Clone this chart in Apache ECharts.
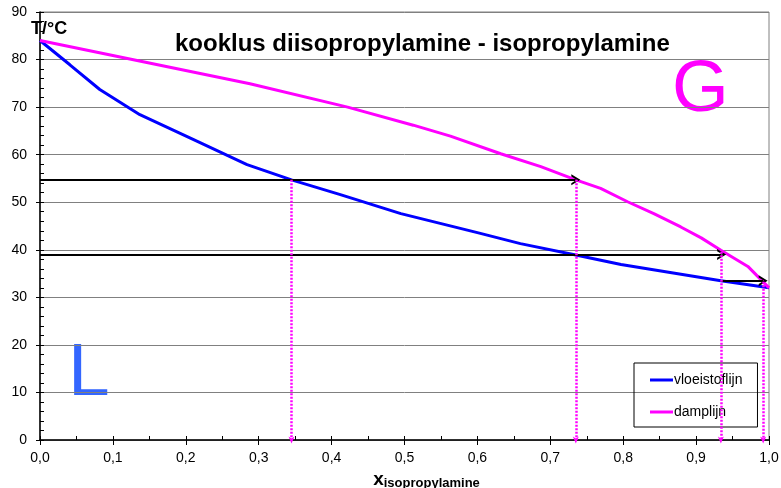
<!DOCTYPE html>
<html>
<head>
<meta charset="utf-8">
<script src="https://cdn.jsdelivr.net/npm/echarts@6/dist/echarts.min.js"></script>
<style>html,body{margin:0;padding:0;background:#fff;}#c{width:781px;height:488px;}</style>
</head>
<body>
<div id="c"></div>
<script>
// liquid line (vloeistoflijn): mole fraction isopropylamine vs T
const liquidX = [0, 0.041, 0.082, 0.137, 0.21, 0.284, 0.345, 0.412, 0.495, 0.6, 0.659, 0.735, 0.797, 0.934, 1.0];
const liquidT = [84, 78.9, 73.7, 68.4, 63.2, 57.9, 54.7, 51.6, 47.6, 43.6, 41.3, 38.9, 36.9, 33.5, 32];
// vapour line (damplijn)
const vaporX = [0, 0.288, 0.422, 0.512, 0.563, 0.632, 0.687, 0.735, 0.769, 0.806, 0.842, 0.879, 0.907, 0.934, 0.971, 1.0];
const vaporT = [84, 74.9, 70.0, 66.2, 63.9, 60.2, 57.5, 54.7, 52.9, 50.1, 47.6, 44.8, 42.5, 39.9, 36.5, 32];
// horizontal tie-line arrows: [xStart, xEnd, T]
const tieArrows = [[0, 0.735, 54.7], [0, 0.935, 39.0], [0.934, 0.992, 33.5]];
// vertical dotted drop arrows: [x, Tstart]
const dropArrows = [[0.345, 54.7], [0.735, 54.7], [0.934, 39.6], [0.992, 33.3]];
const xTicks = ['0,0','0,1','0,2','0,3','0,4','0,5','0,6','0,7','0,8','0,9','1,0'];

const chart = echarts.init(document.getElementById('c'));
const chevron = 'path://M5,0 L10,10 L8,10 L5,4 L2,10 L0,10 Z';
const arrowUp = 'path://M5,0 L10,10 L5,7 L0,10 Z';
const font = 'Arial, "Liberation Sans", sans-serif';

const axisCommon = {
  type: 'value', min: 0, max: 1, interval: 0.1
};
chart.setOption({
  animation: false,
  backgroundColor: '#fff',
  title: {
    text: 'kooklus diisopropylamine - isopropylamine',
    left: 170, top: 27,
    textStyle: {fontFamily: font, fontSize: 24, fontWeight: 'bold', color: '#000'}
  },
  grid: {left: 40, right: 12, top: 12, bottom: 48, containLabel: false, outerBoundsMode: 'none',
    show: true, borderColor: '#808080', borderWidth: 1},
  legend: {
    data: ['vloeistoflijn', 'damplijn'],
    orient: 'vertical', left: 634, top: 363,
    icon: 'rect', itemWidth: 23, itemHeight: 3, itemGap: 18,
    padding: [10, 15, 8, 16],
    borderColor: '#000', borderWidth: 1, borderRadius: 0,
    textStyle: {fontFamily: font, fontSize: 14, color: '#000', padding: [0, 0, 0, -4]}
  },
  xAxis: [
    Object.assign({}, axisCommon, {
      position: 'bottom',
      name: '{x|x}{s|isopropylamine}', nameLocation: 'middle', nameGap: 23,
      nameTextStyle: {padding: [0, 0, 0, 44], rich: {
        x: {fontFamily: font, fontSize: 19, fontWeight: 'bold', color: '#000'},
        s: {fontFamily: font, fontSize: 13, fontWeight: 'bold', color: '#000', padding: [9, 0, 0, 0]}
      }},
      axisLine: {show: true, onZero: false, lineStyle: {color: '#000', width: 1.5}},
      axisTick: {show: true, length: 5, lineStyle: {color: '#000'}},
      axisLabel: {fontFamily: font, fontSize: 14, color: '#000', margin: 11,
        formatter: v => xTicks[Math.round(v * 10)]},
      splitLine: {show: false}
    }),
    Object.assign({}, axisCommon, {
      position: 'bottom',
      axisLine: {show: false, onZero: false},
      axisTick: {show: true, inside: true, length: 4, lineStyle: {color: '#000'}},
      minorTick: {show: true, splitNumber: 2, length: 4, lineStyle: {color: '#000'}},
      axisLabel: {show: false},
      splitLine: {show: false}
    })
  ],
  yAxis: [
    {
      type: 'value', min: 0, max: 90, interval: 10,
      axisLine: {show: true, onZero: false, lineStyle: {color: '#000', width: 1.5}},
      axisTick: {show: true, length: 4, lineStyle: {color: '#000'}},
      axisLabel: {fontFamily: font, fontSize: 14, color: '#000', margin: 13},
      splitLine: {show: true, lineStyle: {color: '#808080', width: 1}}
    },
    {
      type: 'value', min: 0, max: 90, interval: 10, position: 'left',
      axisLine: {show: false, onZero: false},
      axisTick: {show: true, inside: true, length: 4, lineStyle: {color: '#000'}},
      minorTick: {show: true, splitNumber: 5, length: 4, lineStyle: {color: '#000'}},
      axisLabel: {show: false},
      splitLine: {show: false}
    }
  ],
  graphic: [
    {type: 'text', left: 31, top: 20, style: {text: 'T/°C', font: 'bold 18px ' + font, fill: '#000'}},
    {type: 'text', left: 68, top: 337, style: {text: 'L', font: '75px ' + font, fill: '#3366FF'}},
    {type: 'text', left: 672, top: 54, style: {text: 'G', font: '73px ' + font, fill: '#FF00FF'}}
  ],
  series: [
    {
      name: 'vloeistoflijn', type: 'line', showSymbol: false, symbol: 'none',
      data: liquidX.map((x, i) => [x, liquidT[i]]),
      lineStyle: {color: '#0000FF', width: 3}, itemStyle: {color: '#0000FF'}, z: 4
    },
    {
      name: 'damplijn', type: 'line', showSymbol: false, symbol: 'none',
      data: vaporX.map((x, i) => [x, vaporT[i]]),
      lineStyle: {color: '#FF00FF', width: 3}, itemStyle: {color: '#FF00FF'}, z: 4
    },
    {
      name: 'tie', type: 'line', data: [], z: 5,
      markLine: {
        silent: true, symbol: ['none', chevron], symbolSize: [11, 9],
        label: {show: false},
        lineStyle: {color: '#000', width: 2, type: 'solid'},
        data: tieArrows.map(a => [{coord: [a[0], a[2]]}, {coord: [a[1], a[2]]}])
      }
    },
    {
      name: 'drop', type: 'line', data: [], z: 5,
      markLine: {
        silent: true, symbol: ['none', arrowUp], symbolSize: [6, 7],
        label: {show: false},
        lineStyle: {color: '#FF00FF', width: 2.5, type: [2, 1.5]},
        data: dropArrows.map(a => [{coord: [a[0], a[1]]}, {coord: [a[0], 0]}])
      }
    }
  ]
});
</script>
</body>
</html>
